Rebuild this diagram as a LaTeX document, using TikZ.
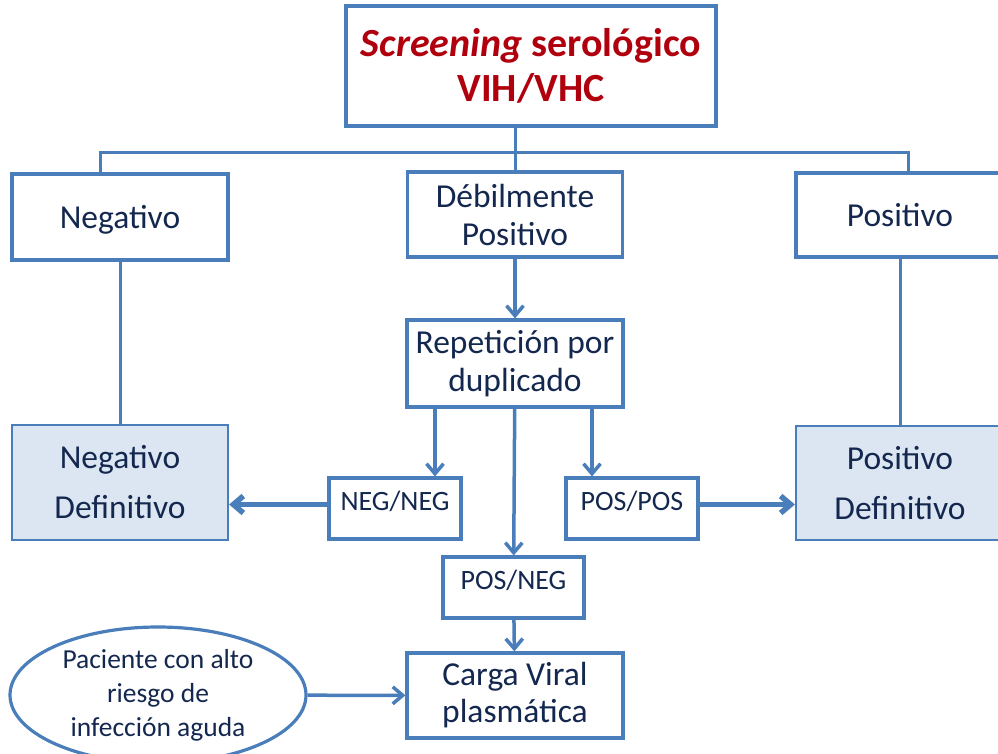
\documentclass[tikz,border=0pt]{standalone}
\usepackage{fontspec}
\setmainfont{Carlito}
\usepackage{tikz}
\usetikzlibrary{arrows,arrows.meta}
\usetikzlibrary{shapes}
\usetikzlibrary{shapes.geometric}
\definecolor{linea}{HTML}{4A7EBB}
\definecolor{texto}{HTML}{14284F}
\definecolor{rojo}{HTML}{B0000E}
\definecolor{celeste}{HTML}{DCE6F2}
\tikzset{
  caja/.style={
    draw=linea,line width=3.2pt,fill=white,text=texto,align=center,inner sep=0pt,
    font=\fontsize{33.5}{38}\selectfont,
  },
  cajachica/.style={caja,font=\fontsize{28}{32}\selectfont,text height=17pt,text depth=13pt},
  cajadef/.style={caja,fill=celeste,line width=2.2pt,font=\fontsize{33.5}{50}\selectfont},
}

\begin{document}
\begin{tikzpicture}[x=1pt,y=-1pt,>={Straight Barb[length=10pt,width=17pt]}]
      \useasboundingbox (0,0) rectangle (998,753);
      \node[caja,minimum width=370pt,minimum height=120pt,text=rojo,font=\fontsize{40}{45}\selectfont\bfseries] (screen) at (531,66) {\textit{Screening} serológico\\VIH/VHC};
      \node[caja,minimum width=216pt,minimum height=86pt,text depth=0pt] (neg) at (120,217) {Negativo};
      \node[caja,minimum width=215pt,minimum height=85pt] (deb) at (515,214.5) {Débilmente\\Positivo};
      \node[caja,minimum width=208pt,minimum height=84pt,text depth=0pt] (pos) at (900,215) {Positivo};
      \node[caja,minimum width=216pt,minimum height=87pt] (rep) at (515,363.5) {Repetición por\\duplicado};
      \node[cajadef,minimum width=216pt,minimum height=115pt] (negdef) at (120,482.5) {Negativo\\Definitivo};
      \node[cajadef,minimum width=208pt,minimum height=114pt] (posdef) at (900,483) {Positivo\\Definitivo};
      \node[cajachica,minimum width=132pt,minimum height=61pt] (negneg) at (395,508.5) {NEG/NEG};
      \node[cajachica,minimum width=132pt,minimum height=61pt] (pospos) at (632,508.5) {POS/POS};
      \node[cajachica,minimum width=141pt,minimum height=61pt] (posneg) at (513.5,587.5) {POS/NEG};
      \node[caja,minimum width=216pt,minimum height=85pt,font=\fontsize{33.5}{37}\selectfont] (carga) at (515,695.5) {Carga Viral\\plasmática};
      \node[caja,ellipse,fill=none,minimum width=296pt,minimum height=136pt,font=\fontsize{27.5}{34}\selectfont] (paciente) at (158,695) {Paciente con alto\\riesgo de\\infección aguda};

      \coordinate (izq) at (100,152);
      \coordinate (der) at (908,152);
      \draw[linea,line width=3pt] (screen.south -| deb.north) -- (deb.north);
      \draw[linea,line width=3pt] (neg.north -| izq) -- (izq) -- (der) -- (pos.north -| der);
      \path[linea,line width=3pt] (neg) edge (negdef) (pos) edge (posdef);

      \path[->,linea,line width=3.5pt] (deb) edge (rep);
      \path[->,linea,line width=3.5pt] ([xshift=-80pt]rep.south) edge ([xshift=-80pt]rep.south |- negneg.north);
      \path[->,linea,line width=3.5pt] (rep) edge (posneg);
      \path[->,linea,line width=3.5pt] ([xshift=77pt]rep.south) edge ([xshift=77pt]rep.south |- pospos.north);
      \path[->,linea,line width=3.5pt] (posneg) edge (carga);
      \path[->,linea,line width=3.5pt] (paciente) edge (carga);
      \path[->,linea,line width=5.5pt] ([yshift=4pt]negneg.west) edge ([yshift=4pt]negneg.west -| negdef.east);
      \path[->,linea,line width=5.5pt] ([yshift=4pt]pospos.east) edge ([yshift=4pt]pospos.east -| posdef.west);
\end{tikzpicture}
\end{document}
